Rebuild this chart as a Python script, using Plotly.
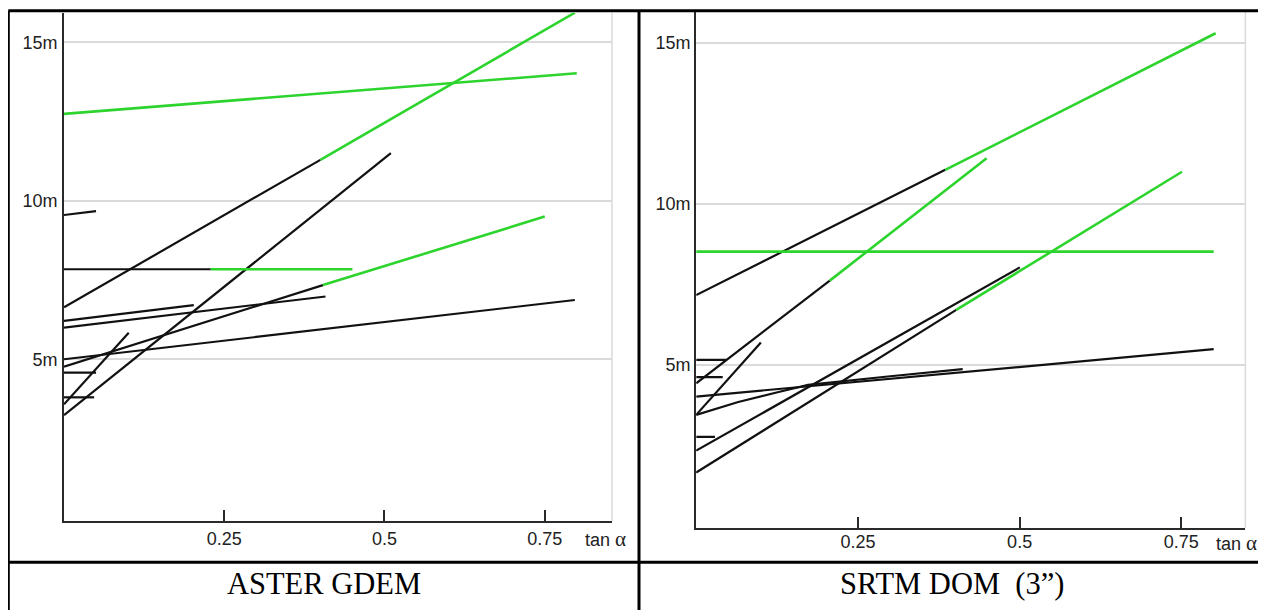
import plotly.graph_objects as go

# ---------------- data ----------------
# ASTER GDEM panel: each entry is (x points, y points)
aster_black = [
    ([0.0, 0.40], [6.64, 11.29]),
    ([0.0, 0.51], [3.24, 11.50]),
    ([0.0, 0.05], [9.55, 9.67]),
    ([0.0, 0.229], [7.84, 7.84]),
    ([0.0, 0.404], [4.77, 7.34]),
    ([0.0, 0.2025], [6.21, 6.71]),
    ([0.0, 0.408], [6.00, 6.98]),
    ([0.0, 0.797], [5.00, 6.87]),
    ([0.0, 0.05], [4.58, 4.58]),
    ([0.0, 0.047], [3.80, 3.80]),
    ([0.0, 0.101], [3.58, 5.84]),
]
aster_green = [
    ([0.0, 0.80], [12.74, 14.02]),
    ([0.40, 0.797], [11.29, 15.93]),
    ([0.229, 0.45], [7.84, 7.84]),
    ([0.404, 0.75], [7.34, 9.50]),
]

# SRTM DOM (3") panel
srtm_black = [
    ([0.0, 0.385], [7.17, 11.06]),
    ([0.0, 0.2065], [4.43, 7.62]),
    ([0.0, 0.402], [1.66, 6.71]),
    ([0.0, 0.5003], [2.34, 8.03]),
    ([0.0, 0.80], [4.02, 5.49]),
    ([0.0, 0.065, 0.129, 0.173, 0.30, 0.412], [3.45, 3.85, 4.17, 4.38, 4.65, 4.87]),
    ([0.0, 0.100], [3.45, 5.70]),
    ([0.0, 0.047], [5.16, 5.16]),
    ([0.0, 0.041], [4.62, 4.62]),
    ([0.0, 0.029], [2.77, 2.77]),
]
srtm_green = [
    ([0.385, 0.803], [11.06, 15.30]),
    ([0.2065, 0.449], [7.62, 11.42]),
    ([0.0, 0.80], [8.52, 8.52]),
    ([0.402, 0.751], [6.71, 11.00]),
]

x_tick_vals = [0.25, 0.5, 0.75]
x_tick_text = ["0.25", "0.5", "0.75"]
y_tick_vals = [5, 10, 15]
y_tick_text = ["5m", "10m", "15m"]
captions = ["ASTER GDEM", "SRTM DOM\u00a0\u00a0(3\u201d)"]
x_title = "tan <span style='font-family:Liberation Serif;font-size:21px'>\u03b1</span>"

# ---------------- layout helpers ----------------
# the page body has an 8px margin, so the figure is 8px smaller than the window
OFF = 8
W, H = 1266 - OFF, 610 - OFF
BLACK = "#111111"
GREEN = "rgb(45,212,45)"
GRID = "#dadada"
AXIS = "#2a2a2a"
SANS = "Liberation Sans, Arial, sans-serif"
SERIF = "Liberation Serif, Times New Roman, serif"


def px_x(p):
    return (p - OFF) / W


def px_y(p):
    return 1 - (p - OFF) / H


fig = go.Figure()


def add_segments(segs, color, xa, ya, width=2.2):
    for xs, ys in segs:
        fig.add_trace(go.Scatter(x=xs, y=ys, mode="lines", xaxis=xa, yaxis=ya,
                                 line=dict(color=color, width=width),
                                 showlegend=False, hoverinfo="skip"))


add_segments(aster_black, BLACK, "x", "y")
add_segments(aster_green, GREEN, "x", "y", width=2.6)
add_segments(srtm_black, BLACK, "x2", "y2")
add_segments(srtm_green, GREEN, "x2", "y2", width=2.6)

xcommon = dict(tickvals=x_tick_vals, ticktext=x_tick_text, ticks="inside", ticklen=11,
               tickwidth=2, tickcolor=AXIS, showgrid=False, zeroline=False,
               showline=True, linecolor=AXIS, linewidth=2,
               tickfont=dict(family=SANS, size=18, color="#222"), fixedrange=True)
ycommon = dict(tickvals=y_tick_vals, ticktext=y_tick_text, ticks="", showgrid=True,
               gridcolor=GRID, gridwidth=1.5, zeroline=False, showline=True,
               linecolor=AXIS, linewidth=2,
               tickfont=dict(family=SANS, size=18, color="#222"), fixedrange=True)

fig.update_layout(
    width=W, height=H, autosize=False,
    margin=dict(l=0, r=0, t=0, b=0),
    paper_bgcolor="white", plot_bgcolor="white",
    xaxis=dict(domain=[px_x(64), px_x(612)], range=[0, 0.855], anchor="y",
               ticklabelstandoff=0, **xcommon),
    yaxis=dict(domain=[px_y(521), px_y(12.7)], range=[-0.1, 15.93], anchor="x",
               ticklabelstandoff=1, **ycommon),
    xaxis2=dict(domain=[px_x(696.2), px_x(1245.4)], range=[0, 0.849], anchor="y2",
                ticklabelstandoff=-3, **xcommon),
    yaxis2=dict(domain=[px_y(527.7), px_y(11.7)], range=[-0.053, 15.97], anchor="x2",
                ticklabelstandoff=0, **ycommon),
)

# right-hand vertical grid line of each panel
for xr, yr in (("x domain", "y domain"), ("x2 domain", "y2 domain")):
    fig.add_shape(type="line", xref=xr, yref=yr, x0=1, x1=1, y0=0, y1=1,
                  line=dict(color=GRID, width=1.5))

# table borders
border = dict(color="black", width=3)
fig.add_shape(type="line", xref="paper", yref="paper", x0=px_x(8.3), x1=1.0,
              y0=px_y(10.7), y1=px_y(10.7), line=border)
fig.add_shape(type="line", xref="paper", yref="paper", x0=px_x(8.3), x1=px_x(8.3),
              y0=px_y(10.7), y1=0, line=border)
fig.add_shape(type="line", xref="paper", yref="paper", x0=px_x(639), x1=px_x(639),
              y0=px_y(10.7), y1=0, line=border)
fig.add_shape(type="line", xref="paper", yref="paper", x0=px_x(8.3), x1=1.0,
              y0=px_y(562.3), y1=px_y(562.3), line=border)

# axis titles "tan α"
for cx, cy in ((605, 539.3), (1236.5, 542.7)):
    fig.add_annotation(x=px_x(cx), y=px_y(cy), xref="paper", yref="paper",
                       text=x_title, showarrow=False, xanchor="center", yanchor="middle",
                       font=dict(family=SANS, size=18, color="#222"))

# captions
for text, cx in zip(captions, (323.5, 952)):
    fig.add_annotation(x=px_x(cx), y=px_y(584), xref="paper", yref="paper",
                       text=text, showarrow=False, xanchor="center", yanchor="middle",
                       font=dict(family=SERIF, size=30.5, color="black"))

fig.write_html("out.html")
